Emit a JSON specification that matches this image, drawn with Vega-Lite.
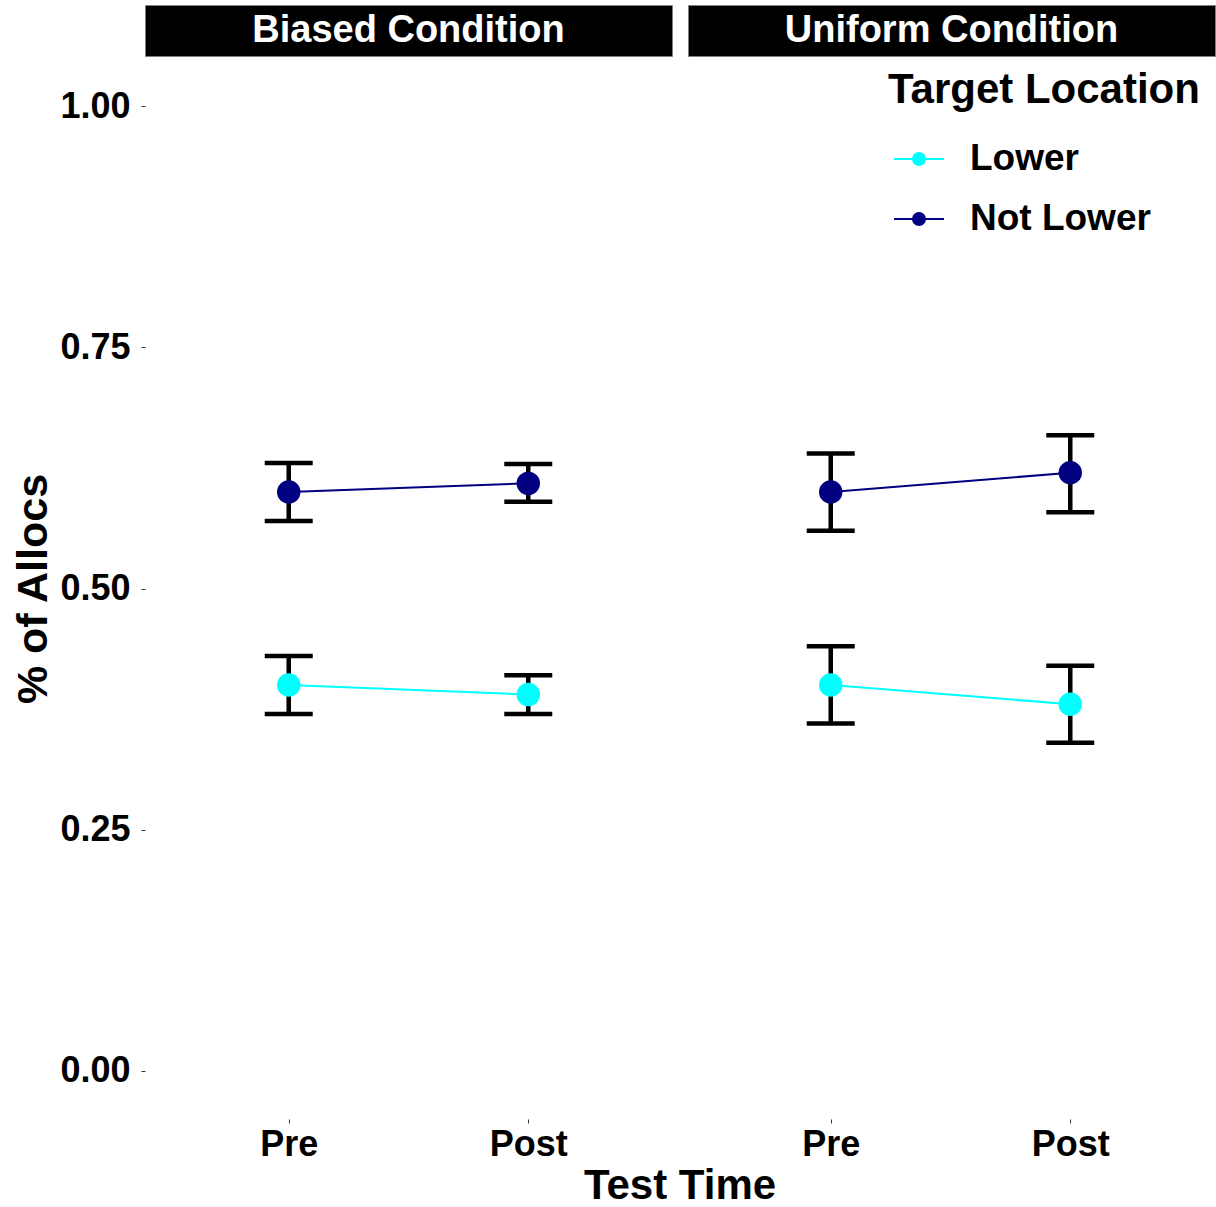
{
  "$schema": "https://vega.github.io/schema/vega-lite/v6.json",
  "padding": {"left": 12, "top": 4, "right": 2, "bottom": 0},
  "background": "white",
  "spacing": 1,
  "config": {
    "font": "Liberation Sans",
    "view": {"stroke": null},
    "axis": {
      "labelFont": "Liberation Sans",
      "labelFontSize": 36,
      "labelFontWeight": "bold",
      "labelColor": "black",
      "titleFont": "Liberation Sans",
      "titleFontSize": 43,
      "titleFontWeight": "bold",
      "titleColor": "black",
      "grid": false,
      "domain": false,
      "tickColor": "#333333",
      "tickSize": 4,
      "tickWidth": 1
    },
    "legend": {
      "titleFont": "Liberation Sans",
      "titleFontSize": 42,
      "titleFontWeight": "bold",
      "titleColor": "black",
      "labelFont": "Liberation Sans",
      "labelFontSize": 37,
      "labelFontWeight": "bold",
      "labelColor": "black",
      "labelLimit": 500,
      "titleLimit": 500
    }
  },
  "datasets": {
    "strip": [
      {"cond": "Biased Condition"},
      {"cond": "Uniform Condition"}
    ],
    "main": [
      {"cond": "Biased Condition", "time": "Pre", "loc": "Lower", "mean": 0.400, "lo": 0.370, "hi": 0.430},
      {"cond": "Biased Condition", "time": "Post", "loc": "Lower", "mean": 0.390, "lo": 0.370, "hi": 0.410},
      {"cond": "Biased Condition", "time": "Pre", "loc": "Not Lower", "mean": 0.600, "lo": 0.570, "hi": 0.630},
      {"cond": "Biased Condition", "time": "Post", "loc": "Not Lower", "mean": 0.609, "lo": 0.590, "hi": 0.629},
      {"cond": "Uniform Condition", "time": "Pre", "loc": "Lower", "mean": 0.400, "lo": 0.360, "hi": 0.440},
      {"cond": "Uniform Condition", "time": "Post", "loc": "Lower", "mean": 0.380, "lo": 0.340, "hi": 0.420},
      {"cond": "Uniform Condition", "time": "Pre", "loc": "Not Lower", "mean": 0.600, "lo": 0.560, "hi": 0.640},
      {"cond": "Uniform Condition", "time": "Post", "loc": "Not Lower", "mean": 0.620, "lo": 0.579, "hi": 0.659}
    ]
  },
  "vconcat": [
    {
      "data": {"name": "strip"},
      "facet": {
        "column": {"field": "cond", "type": "nominal", "header": null, "sort": ["Biased Condition", "Uniform Condition"]}
      },
      "spacing": 14,
      "spec": {
        "width": 527,
        "height": 51,
        "view": {"fill": "black", "stroke": "#808080", "strokeWidth": 1},
        "mark": {"type": "text", "color": "white", "fontSize": 38, "fontWeight": "bold", "font": "Liberation Sans", "baseline": "middle", "align": "center"},
        "encoding": {"text": {"field": "cond", "type": "nominal"}}
      }
    },
    {
      "data": {"name": "main"},
      "facet": {
        "column": {
          "field": "cond", "type": "nominal",
          "sort": ["Biased Condition", "Uniform Condition"],
          "title": "Test Time",
          "header": {
            "labels": false,
            "titleOrient": "bottom",
            "titleFont": "Liberation Sans",
            "titleFontSize": 42,
            "titleFontWeight": "bold",
            "titleColor": "black",
            "titlePadding": -6
          }
        }
      },
      "spacing": 15,
      "spec": {
        "width": 527,
        "height": 1061,
        "encoding": {
          "x": {
            "field": "time", "type": "nominal", "sort": ["Pre", "Post"],
            "scale": {"type": "point", "padding": 0.6},
            "axis": {"title": null, "labelAngle": 0, "labelPadding": 4}
          }
        },
        "layer": [
          {
            "mark": {"type": "rule", "color": "black", "strokeWidth": 4.5},
            "encoding": {
              "y": {"field": "lo", "type": "quantitative"},
              "y2": {"field": "hi"}
            }
          },
          {
            "mark": {"type": "tick", "color": "black", "size": 48, "thickness": 4.5, "opacity": 1},
            "encoding": {"y": {"field": "lo", "type": "quantitative"}}
          },
          {
            "mark": {"type": "tick", "color": "black", "size": 48, "thickness": 4.5, "opacity": 1},
            "encoding": {"y": {"field": "hi", "type": "quantitative"}}
          },
          {
            "mark": {"type": "line", "strokeWidth": 2},
            "encoding": {
              "y": {"field": "mean", "type": "quantitative"},
              "color": {"field": "loc", "type": "nominal"}
            }
          },
          {
            "mark": {"type": "point", "filled": true, "opacity": 1, "size": 550, "shape": "circle"},
            "encoding": {
              "y": {
                "field": "mean", "type": "quantitative",
                "scale": {"domain": [-0.05, 1.05], "nice": false, "zero": false},
                "axis": {"title": "% of Allocs", "values": [0, 0.25, 0.5, 0.75, 1], "format": ".2f", "labelPadding": 11, "titlePadding": 4}
              },
              "color": {
                "field": "loc", "type": "nominal",
                "scale": {"domain": ["Lower", "Not Lower"], "range": ["#00FFFF", "#000080"]},
                "legend": {
                  "title": "Target Location",
                  "orient": "none",
                  "legendX": 743,
                  "legendY": 65,
                  "symbolType": "M-1,0L1,0M0.24,0A0.24,0.24,0,1,1,-0.24,0A0.24,0.24,0,1,1,0.24,0Z",
                  "symbolSize": 2500,
                  "symbolStrokeWidth": 2,
                  "symbolOffset": 5,
                  "labelOffset": 25,
                  "rowPadding": 16,
                  "titlePadding": 21,
                  "encode": {
                    "symbols": {
                      "update": {
                        "fill": {"scale": "color", "field": "value"},
                        "stroke": {"scale": "color", "field": "value"},
                        "strokeWidth": {"value": 2},
                        "opacity": {"value": 1}
                      }
                    }
                  }
                }
              }
            }
          }
        ]
      }
    }
  ]
}
